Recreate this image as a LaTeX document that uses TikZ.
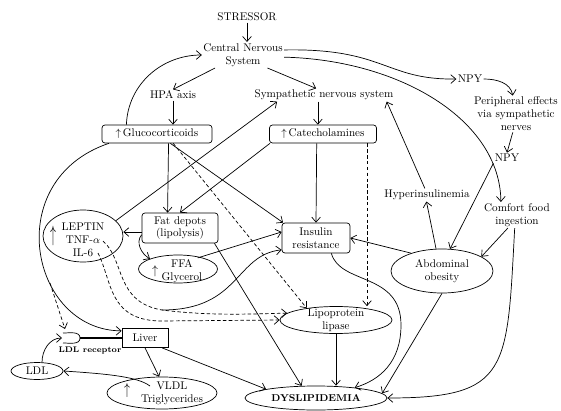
\documentclass[tikz,border=0pt]{standalone}
\usepackage{graphicx}
\usepackage{tikz}
\usetikzlibrary{arrows.meta}
\usetikzlibrary{shapes.geometric}
\tikzset{
    txt/.style = {align=center, inner sep=1pt},
    rbox/.style = {draw, rounded corners=2.5pt, align=center, inner sep=1pt},
    sbox/.style = {draw, align=center, inner sep=1pt},
    oval/.style = {draw, ellipse, align=center, inner sep=0pt},
}
\newcommand{\tallup}[1]{\scalebox{1.1}[#1]{$\uparrow$}}

\begin{document}
\begin{tikzpicture}[
	x=0.3mm, y=-0.3mm,
	line width=0.6pt,
	font=\fontsize{9.5}{11}\selectfont,
	>={Straight Barb[length=1.5mm,width=2.6mm]}
]
\tikzset{
    arr/.style = {->},
    darr/.style = {->, dash pattern=on 3pt off 2pt},
    thickl/.style = {line width=1.4pt}
}
\useasboundingbox (0,0) rectangle (561,411);
%
\node[txt] at (247,17) (stressor) {STRESSOR};
\node[txt] at (243,55) (cns) {Central Nervous\\System};
\node[txt] at (173,95) (hpa) {HPA axis};
\node[txt] at (324,95) (sns) {Sympathetic nervous system};
\node[rbox, minimum width=33mm, minimum height=5.4mm] at (157,134) (gluco) {$\uparrow$\,Glucocorticoids};
\node[rbox, minimum width=32.1mm, minimum height=5.4mm] at (323,134) (catech) {$\uparrow$\,Catecholamines};
\node[txt] at (470,79) (npya) {NPY};
\node[txt] at (516,114) (periph) {Peripheral effects\\via sympathetic\\nerves};
\node[txt] at (507,158) (npyb) {NPY};
\node[txt] at (427,195) (hyper) {Hyperinsulinemia};
\node[txt] at (517,215) (comfort) {Comfort food\\ingestion};
%
\node[oval, minimum width=24mm, minimum height=15.6mm] at (83,236) (leptin) {};
\node[txt] at (83,240) (leptxt) {LEPTIN\\TNF-$\alpha$\\IL-6};
\node[txt] at (53,236) (lepup) {\tallup{2.1}};
\node[rbox, minimum width=22.8mm, minimum height=9mm] at (180,228) (fat) {Fat depots\\(lipolysis)};
\node[oval, minimum width=23.7mm, minimum height=8.4mm] at (178,269) (ffa) {};
\node[txt] at (182,271) (ffatxt) {FFA\\Glycerol};
\node[txt] at (155,271) (ffaup) {\tallup{1.2}};
\node[rbox, minimum width=20.4mm, minimum height=9mm] at (316,238) (insulin) {Insulin\\resistance};
\node[oval, minimum width=30.6mm, minimum height=13.2mm] at (442,271) (abd) {Abdominal\\obesity};
\node[oval, minimum width=33.6mm, minimum height=8.1mm,
      label={[txt]center:Lipoprotein\\lipase}] at (336,320) (lpl) {};
%
\node[sbox, minimum width=13.8mm, minimum height=5.7mm] at (145,338) (liver) {Liver};
\node[txt, font=\fontsize{7}{8}\selectfont\bfseries] at (90,350) (recep) {LDL receptor};
\node[oval, minimum width=15.6mm, minimum height=5.1mm] at (37,371) (ldl) {LDL};
\node[oval, minimum width=33mm, minimum height=9.6mm] at (162,393) (vldl) {};
\node[txt] at (172,393) (vldltxt) {VLDL\\Triglycerides};
\node[txt] at (127,391) (vldlup) {\tallup{1.5}};
\node[oval, minimum width=42.6mm, minimum height=7.2mm,
      font=\fontsize{8.5}{10}\selectfont\bfseries] at (316,398) (dys) {DYSLIPIDEMIA};
%
\coordinate (tnf) at (103,241);
\coordinate (il6) at (98,253);
\coordinate (branch) at (162,310);
\coordinate (dsrc) at (50,283);
\coordinate (cupr) at (80,338);
\coordinate (cupin) at (62,338);
\coordinate (cuptop) at (65,329);
\coordinate (vtail) at (150,386);
%
\draw[arr] (stressor.south) -- (stressor.south |- cns.north);
\draw[arr] (cns.205) -- (hpa.north);
\draw[arr] (cns.-28) -- (sns.140);
\draw[arr] (cns.7) .. controls (385,48) and (385,80) .. (npya.west);
\draw[arr] (cns.-3) .. controls (400,60) and (500,120) .. (comfort.141);
\draw[arr] (gluco.163) to[out=88,in=180] (cns.west);
\draw[arr] (hpa.south) -- (hpa.south |- gluco.north);
\draw[arr] (sns.-133) -- (sns.-133 |- catech.north);
%
\draw[arr] (npya.east) to[out=0,in=100] (periph.100);
\draw[arr] (periph.-100) -- (npyb.north);
\draw[arr] (npyb.south west) -- (abd.70);
\draw[arr] (comfort.-125) -- (abd.20);
\draw[arr] (comfort.-100) .. controls (507,370) and (510,398) .. (dys.east);
\draw[arr] (abd.105) -- (hyper.-95);
\draw[arr] (hyper.108) -- (sns.-6);
\draw[arr] (abd.150) -- (insulin.east);
\draw[arr] (abd.south) -- (dys.4);
%
\draw[arr] (gluco.-39) -- (fat.129);
\draw[arr] (catech.190) -- (fat.north);
\draw[arr] (gluco.-35) -- (insulin.155);
\draw[darr] (gluco.-30) -- (lpl.158);
\draw[arr] (catech.-124) -- (insulin.north);
\draw[darr] (catech.-12) -- (catech.-12 |- lpl.north);
\draw[arr] (leptin.25) -- (sns.188);
%
\draw[arr] (fat.186) -- (fat.186 -| leptin.east);
\draw[arr] (fat.190) to[out=230,in=150] (ffa.160);
\draw[arr] (ffatxt.40) -- (insulin.170);
\draw[arr] (fat.-24) -- (dys.140);
\draw[arr] (insulin.-45) .. controls (340,285) and (401,272) .. (401,325)
    .. controls (401,362) and (380,380) .. (dys.15);
\draw[arr] (lpl.south) -- (lpl.south |- dys.north);
%
\draw[darr] (tnf) .. controls (125,260) and (115,302) .. (branch)
    .. controls (210,316) and (250,314) .. (lpl.172);
\draw[darr] (il6) .. controls (112,280) and (108,320) .. (160,321) -- (lpl.180);
\draw[arr] (branch) .. controls (240,310) and (235,255) .. (insulin.199);
%
\draw[arr] (gluco.191) .. controls (0,180) and (30,330) .. (liver.163);
\draw[darr] (dsrc) -- (cuptop);
\draw (cupr) ++(-17,-5) to[out=0,in=90] (cupr) to[out=-90,in=0] ++(-17,5);
\draw[thickl] (cupr) -- (liver.west);
\draw[arr] (ldl.60) to[out=90,in=180] (cupin);
\draw[arr] (liver.south) -- (vldl.100);
\draw[arr] (liver.-30) -- (dys.170);
\draw[arr] (vtail) .. controls (138,377) and (110,374) .. (ldl.east);
\end{tikzpicture}
\end{document}
